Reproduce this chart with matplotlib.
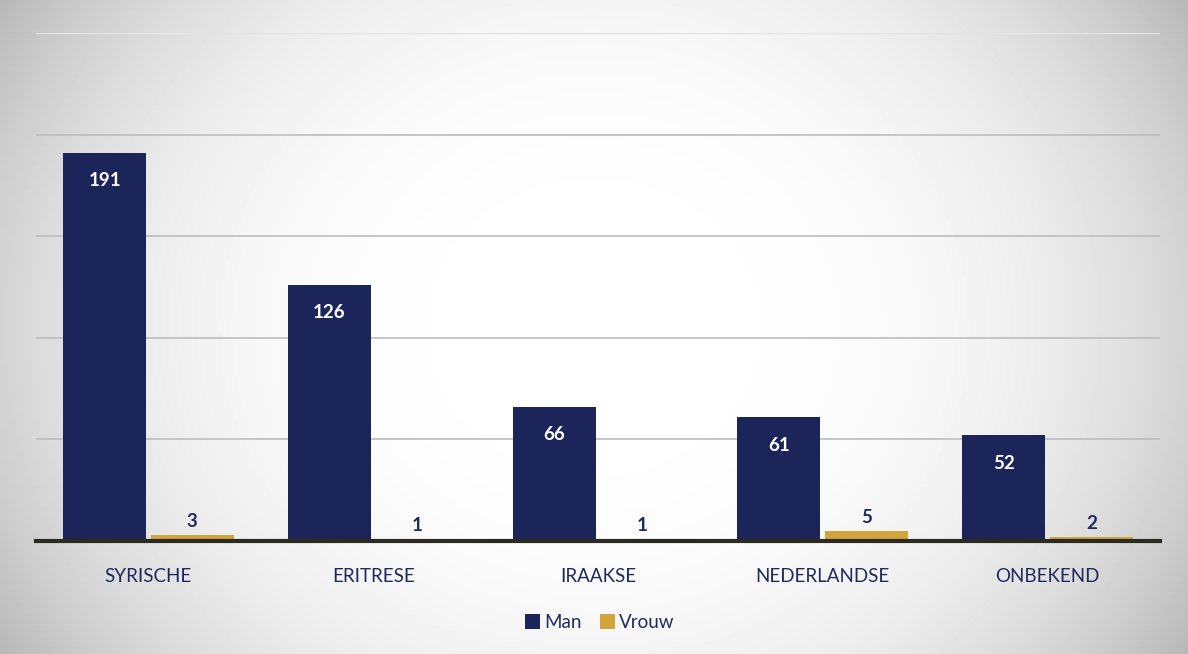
import matplotlib.pyplot as plt
import numpy as np

categories = ["SYRISCHE", "ERITRESE", "IRAAKSE", "NEDERLANDSE", "ONBEKEND"]
man = [191, 126, 66, 61, 52]
vrouw = [3, 1, 1, 5, 2]

navy = "#1b2559"
gold = "#d2a43c"
text_col = "#1f2a5c"

plt.rcParams["font.family"] = ["Lato", "DejaVu Sans"]

fig = plt.figure(figsize=(11.88, 6.54), dpi=100)

# soft grey-to-white background like the scanned slide
bg = fig.add_axes([0, 0, 1, 1], zorder=-10)
yy, xx = np.mgrid[-1:1:200j, -1:1:300j]
r = np.sqrt((xx / 1.0) ** 2 + (yy / 1.6) ** 2)
shade = 1 - 0.17 * np.clip(r, 0, 1.2) ** 3
bg.imshow(shade, cmap="gray", vmin=0, vmax=1, aspect="auto",
          extent=[0, 1, 0, 1])
bg.axis("off")

ax = fig.add_axes([0.0303, 0.1728, 0.946, 0.7767])
ax.patch.set_alpha(0)

x = np.arange(len(categories))
w = 0.37
b1 = ax.bar(x - w / 2 - 0.01, man, w, color=navy, label="Man", zorder=3)
b2 = ax.bar(x + w / 2 + 0.01, vrouw, w, color=gold, label="Vrouw", zorder=3)

for rect, v in zip(b1, man):
    ax.annotate(str(v), (rect.get_x() + rect.get_width() / 2, v),
                xytext=(0, -28), textcoords="offset pixels",
                ha="center", va="center", color="white", fontsize=13.5,
                fontweight="bold")
for rect, v in zip(b2, vrouw):
    ax.annotate(str(v), (rect.get_x() + rect.get_width() / 2, v),
                xytext=(0, 13), textcoords="offset pixels",
                ha="center", va="center", color=text_col, fontsize=13.5,
                fontweight="bold")

ax.set_xlim(-0.5, len(categories) - 0.5)
ax.set_ylim(0, 250)
for yv in [50, 100, 150, 200]:
    ax.axhline(yv, color="#bdbdbd", linewidth=1.2, zorder=0)
ax.axhline(250, color="#e4e4e4", linewidth=1.0, zorder=0)
ax.set_yticks([])
ax.tick_params(axis="x", bottom=False, pad=16)
ax.set_xticks(x)
ax.set_xticklabels(categories, fontsize=13.5, color=text_col)
for s in ["top", "right", "left"]:
    ax.spines[s].set_visible(False)
ax.spines["bottom"].set_color("#2b2b22")
ax.spines["bottom"].set_linewidth(3)
ax.spines["bottom"].set_zorder(4)

leg = fig.legend(handles=[b1, b2], labels=["Man", "Vrouw"], loc="center",
                 bbox_to_anchor=(0.505, 0.048), ncol=2, frameon=False,
                 fontsize=13.5, handlelength=0.8, handleheight=0.8,
                 handletextpad=0.2, columnspacing=1.0)
for t in leg.get_texts():
    t.set_color(text_col)

fig.savefig("out.png", dpi=100)
